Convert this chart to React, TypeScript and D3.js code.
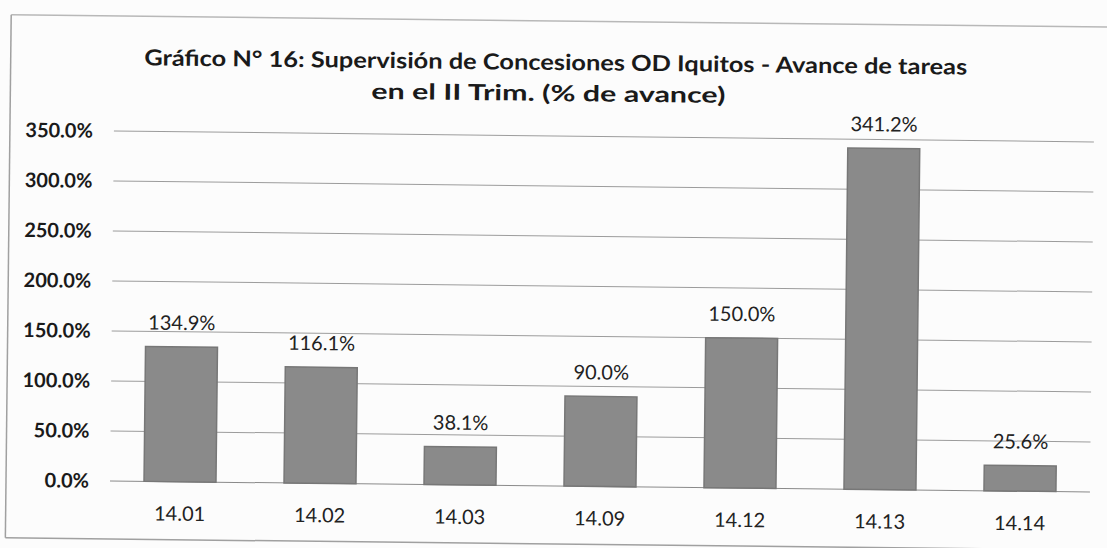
import React, { useEffect } from "react";
import * as d3 from "d3";

const categories = ["14.01", "14.02", "14.03", "14.09", "14.12", "14.13", "14.14"];
const values = [134.9, 116.1, 38.1, 90.0, 150.0, 341.2, 25.6];
const yTicks = [0, 50, 100, 150, 200, 250, 300, 350];
const titleLines = [
  "Gráfico N° 16:  Supervisión de Concesiones OD Iquitos - Avance de tareas",
  "en el II Trim. (% de avance)",
];

const W = 1107;
const H = 548;
const FONT = "Lato, 'Open Sans', 'DejaVu Sans', sans-serif";

export default function App() {
  useEffect(() => {
    document.body.style.margin = "0";
  }, []);

  const x = d3
    .scaleBand<string>()
    .domain(categories)
    .range([110, 1090])
    .paddingInner(0.486)
    .paddingOuter(0.243);
  const y = d3.scaleLinear().domain([0, 350]).range([481, 131]);
  const fmt = (v: number) => d3.format(".1f")(v) + "%";
  const angle = 0.64;

  return (
    <svg width={W} height={H} style={{ display: "block", background: "#fcfcfc" }}>
      <g transform={`rotate(${angle}, 110, 481)`}>
        <line x1={6} y1={16} x2={1104} y2={16} stroke="#b8b8b8" strokeWidth={1.5} />
        <line x1={6} y1={16} x2={6} y2={539} stroke="#a0a0a0" strokeWidth={1.5} />
        <line x1={6} y1={539} x2={1104} y2={539} stroke="#a0a0a0" strokeWidth={1.5} />

        <text x={551} y={65} textAnchor="middle" fontFamily={FONT} fontWeight="bold" fontSize={22}
          fill="#1a1a1a" textLength={823} lengthAdjust="spacingAndGlyphs">{titleLines[0]}</text>
        <text x={544} y={96} textAnchor="middle" fontFamily={FONT} fontWeight="bold" fontSize={22}
          fill="#1a1a1a" textLength={354} lengthAdjust="spacingAndGlyphs">{titleLines[1]}</text>

        {yTicks.map((t) => (
          <g key={t}>
            <line x1={110} x2={1090} y1={y(t)} y2={y(t)} stroke={t === 0 ? "#8a8a8a" : "#9c9c9c"} strokeWidth={1} />
            <text x={89} y={y(t) + 7} textAnchor="end" fontFamily={FONT} fontWeight="bold" fontSize={20} fill="#1a1a1a">
              {fmt(t)}
            </text>
          </g>
        ))}

        {categories.map((c, i) => (
          <g key={c}>
            <rect x={x(c)} y={y(values[i])} width={x.bandwidth()} height={y(0) - y(values[i])}
              fill="#8a8a8a" stroke="#777" strokeWidth={1.5} />
            <text x={(x(c) as number) + x.bandwidth() / 2} y={y(values[i]) - 17} textAnchor="middle"
              fontFamily={FONT} fontSize={20} fill="#222">{fmt(values[i])}</text>
            <text x={(x(c) as number) + x.bandwidth() / 2} y={520} textAnchor="middle"
              fontFamily={FONT} fontSize={20} fill="#222">{c}</text>
          </g>
        ))}
      </g>
    </svg>
  );
}
